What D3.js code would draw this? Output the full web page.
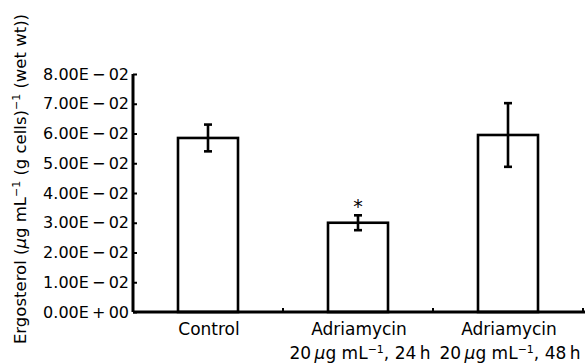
<!DOCTYPE html>
<html>
<head>
<meta charset="utf-8">
<script src="https://cdn.jsdelivr.net/npm/d3@7"></script>
<style>
  body { margin: 0; background: #fff; }
  svg { display: block; font-family: "DejaVu Sans", sans-serif; }
</style>
</head>
<body>
<div id="chart"></div>
<script>
const categories = ["Control", "Adriamycin 24h", "Adriamycin 48h"];
const labelLine1 = ["Control", "Adriamycin", "Adriamycin"];
const labelLine2 = ["", "24\u2009h", "48\u2009h"];
const means = [0.0585, 0.0300, 0.0595];
const errors = [0.0045, 0.0025, 0.0107];
const marks = ["", "*", ""];
const yTicks = [0, 0.01, 0.02, 0.03, 0.04, 0.05, 0.06, 0.07, 0.08];
const yTickLabels = ["0.00E\u2009+\u200900", "1.00E\u2009\u2212\u200902", "2.00E\u2009\u2212\u200902",
  "3.00E\u2009\u2212\u200902", "4.00E\u2009\u2212\u200902", "5.00E\u2009\u2212\u200902",
  "6.00E\u2009\u2212\u200902", "7.00E\u2009\u2212\u200902", "8.00E\u2009\u2212\u200902"];

const width = 585, height = 363;
const fs = 17;
const svg = d3.select("#chart")
  .append("svg")
  .attr("width", width)
  .attr("height", height);

const x = d3.scaleBand()
  .domain(categories)
  .range([133, 583])
  .paddingInner(0.6)
  .paddingOuter(0.3);

const y = d3.scaleLinear()
  .domain([0, 0.08])
  .range([312, 74]);

// bars
svg.selectAll("rect.bar")
  .data(categories)
  .enter()
  .append("rect")
  .attr("class", "bar")
  .attr("x", d => x(d))
  .attr("y", (d, i) => y(means[i]))
  .attr("width", x.bandwidth())
  .attr("height", (d, i) => y(0) - y(means[i]))
  .attr("fill", "#fff")
  .attr("stroke", "#000")
  .attr("stroke-width", 2.6);

// error bars
const cx = d => x(d) + x.bandwidth() / 2;
const err = svg.append("g").attr("stroke", "#000").attr("stroke-width", 2.6);
categories.forEach((c, i) => {
  const top = y(means[i] + errors[i]), bot = y(means[i] - errors[i]);
  err.append("line").attr("x1", cx(c)).attr("x2", cx(c)).attr("y1", top).attr("y2", bot);
  err.append("line").attr("x1", cx(c) - 4).attr("x2", cx(c) + 4).attr("y1", top).attr("y2", top);
  err.append("line").attr("x1", cx(c) - 4).attr("x2", cx(c) + 4).attr("y1", bot).attr("y2", bot);
});

// significance marks
svg.selectAll("text.mark")
  .data(categories)
  .enter()
  .append("text")
  .attr("class", "mark")
  .attr("x", d => cx(d))
  .attr("y", (d, i) => y(means[i] + errors[i]) - 2)
  .attr("text-anchor", "middle")
  .attr("font-size", 19)
  .text((d, i) => marks[i]);

// y axis
const yAxis = svg.append("g")
  .attr("transform", "translate(133,0)")
  .call(d3.axisLeft(y)
    .tickValues(yTicks)
    .tickSize(-4)
    .tickPadding(4)
    .tickFormat((d, i) => yTickLabels[i]));
yAxis.select(".domain").attr("stroke-width", 3).attr("d", `M0,${y(0.08)}V${y(0)}`);
yAxis.selectAll(".tick line").attr("stroke-width", 2);
yAxis.selectAll(".tick text")
  .attr("font-size", 16)
  .attr("font-family", "DejaVu Sans, sans-serif")
  .attr("fill", "#000");

// x axis
const xAxis = svg.append("g")
  .attr("transform", "translate(0,312)")
  .call(d3.axisBottom(x).tickSize(0).tickFormat(""));
xAxis.select(".domain").attr("stroke-width", 3).attr("d", `M133,0H${width}`);
xAxis.selectAll(".bound")
  .data(categories)
  .enter()
  .append("line")
  .attr("class", "bound")
  .attr("x1", d => x(d) + x.step() * 0.7)
  .attr("x2", d => x(d) + x.step() * 0.7)
  .attr("y1", 0).attr("y2", -4)
  .attr("stroke", "#000").attr("stroke-width", 2);

// category labels
const lab = svg.append("g").attr("font-size", fs).attr("text-anchor", "middle");
categories.forEach((c, i) => {
  lab.append("text").attr("x", cx(c) + 1).attr("y", 335).text(labelLine1[i]);
  if (labelLine2[i]) {
    const t = lab.append("text").attr("x", cx(c) + 2).attr("y", 359);
    t.append("tspan").text("20\u2009");
    t.append("tspan").attr("font-style", "italic").text("\u03bc");
    t.append("tspan").text("g mL");
    t.append("tspan").attr("font-size", 11).attr("dy", -6).text("\u22121");
    t.append("tspan").attr("dy", 6).text(", " + labelLine2[i]);
  }
});

// y title
const yt = svg.append("text")
  .attr("transform", "translate(26,179) rotate(-90)")
  .attr("text-anchor", "middle")
  .attr("font-size", 16.5);
yt.append("tspan").text("Ergosterol (");
yt.append("tspan").attr("font-style", "italic").text("\u03bc");
yt.append("tspan").text("g mL");
yt.append("tspan").attr("font-size", 11).attr("dy", -6).text("\u22121");
yt.append("tspan").attr("dy", 6).text(" (g cells)");
yt.append("tspan").attr("font-size", 11).attr("dy", -6).text("\u22121");
yt.append("tspan").attr("dy", 6).text(" (wet wt))");
</script>
</body>
</html>
